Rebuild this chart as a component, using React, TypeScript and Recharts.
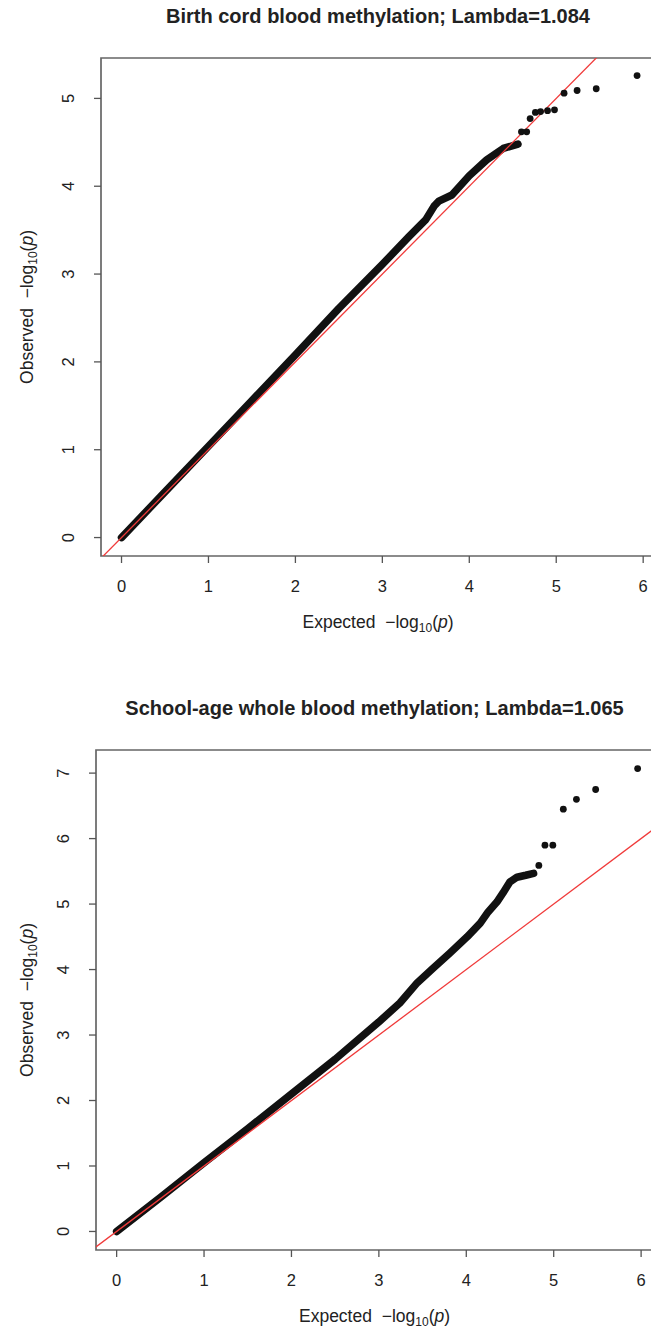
import React from 'react';
import { ComposedChart, Line, Scatter, XAxis, YAxis, ReferenceArea } from 'recharts';

// Birth cord blood: dense part of the QQ curve (expected, observed)
const cordBandExp = [0, 0.5, 1, 1.5, 2, 2.5, 3, 3.3, 3.5, 3.6, 3.65, 3.8, 4.0, 4.2, 4.39, 4.56];
const cordBandObs = [0, 0.52, 1.04, 1.56, 2.08, 2.61, 3.11, 3.42, 3.62, 3.78, 3.83, 3.9, 4.12, 4.3, 4.43, 4.48];
// Birth cord blood: single points in the tail
const cordTailExp = [4.6, 4.66, 4.7, 4.76, 4.82, 4.9, 4.98, 5.09, 5.24, 5.46, 5.93];
const cordTailObs = [4.62, 4.62, 4.77, 4.84, 4.85, 4.86, 4.87, 5.06, 5.09, 5.11, 5.26];

// School-age whole blood
const schoolBandExp = [0, 0.5, 1, 1.5, 2, 2.5, 3, 3.24, 3.44, 3.62, 3.81, 4.01, 4.16, 4.25, 4.35, 4.42, 4.5, 4.58, 4.68, 4.77];
const schoolBandObs = [0, 0.52, 1.05, 1.57, 2.1, 2.63, 3.2, 3.49, 3.8, 4.02, 4.25, 4.5, 4.71, 4.88, 5.03, 5.17, 5.34, 5.41, 5.44, 5.47];
const schoolTailExp = [4.83, 4.9, 4.99, 5.11, 5.26, 5.48, 5.96];
const schoolTailObs = [5.59, 5.9, 5.9, 6.45, 6.6, 6.75, 7.07];

const xTicks = [0, 1, 2, 3, 4, 5, 6];
const cordYTicks = [0, 1, 2, 3, 4, 5];
const schoolYTicks = [0, 1, 2, 3, 4, 5, 6, 7];

const diagonal = [-1, 9];

const FONT = '"Liberation Sans", Arial, Helvetica, sans-serif';
const TEXT = '#222';

const pairs = (xs: number[], ys: number[]) => xs.map((x, i) => ({ x, y: ys[i] }));

const RotatedTick = (props: any) => {
  const { x, y, payload } = props;
  return (
    <text
      x={x}
      y={y}
      transform={`rotate(-90, ${x}, ${y})`}
      textAnchor="middle"
      fill={TEXT}
      fontSize={16.5}
      fontFamily={FONT}
    >
      {payload.value}
    </text>
  );
};

const Dot = (props: any) => <circle cx={props.cx} cy={props.cy} r={3.4} fill="#111" />;

const LogP = () => (
  <>
    {'\u2212log'}
    <span style={{ fontSize: 12, verticalAlign: -4 }}>10</span>(<i>p</i>)
  </>
);

interface QQProps {
  top: number;
  title: string;
  bandExp: number[];
  bandObs: number[];
  tailExp: number[];
  tailObs: number[];
  yTicks: number[];
  yDomain: [number, number];
  margin: { top: number; left: number; right: number; bottom: number };
}

const QQPlot: React.FC<QQProps> = ({ top, title, bandExp, bandObs, tailExp, tailObs, yTicks, yDomain, margin }) => {
  const xDomain: [number, number] = [-0.236, 6.136];
  const plotLeft = margin.left + 40;
  const plotRight = 660 - margin.right;
  const plotBottom = 660 - margin.bottom - 40;
  const cx = (plotLeft + plotRight) / 2;
  return (
    <div style={{ position: 'absolute', left: 0, top, width: 660, height: 660 }}>
      <div
        style={{
          position: 'absolute', left: cx, top: 5, transform: 'translateX(-50%)', whiteSpace: 'nowrap',
          fontFamily: FONT, fontWeight: 'bold', fontSize: 20, color: TEXT, letterSpacing: 0,
        }}
      >
        {title}
      </div>
      <ComposedChart width={660} height={660} margin={margin}>
        <XAxis
          type="number"
          dataKey="x"
          domain={xDomain}
          allowDataOverflow
          ticks={xTicks}
          height={40}
          axisLine={false}
          tickSize={7}
          tickMargin={17}
          tickLine={{ stroke: '#555', strokeWidth: 1.3 }}
          tick={{ fill: TEXT, fontSize: 16.5, fontFamily: FONT }}
        />
        <YAxis
          type="number"
          dataKey="y"
          domain={yDomain}
          allowDataOverflow
          ticks={yTicks}
          width={40}
          axisLine={false}
          tickSize={7}
          tickMargin={20}
          tickLine={{ stroke: '#555', strokeWidth: 1.3 }}
          tick={<RotatedTick />}
        />
        <ReferenceArea
          x1={xDomain[0]}
          x2={xDomain[1]}
          y1={yDomain[0]}
          y2={yDomain[1]}
          fill="none"
          stroke="#666"
          strokeWidth={1.7}
        />
        <Line
          data={pairs(bandExp, bandObs)}
          dataKey="y"
          type="linear"
          stroke="#111"
          strokeWidth={7.5}
          strokeLinecap="round"
          strokeLinejoin="round"
          dot={false}
          activeDot={false}
          isAnimationActive={false}
        />
        <Scatter data={pairs(tailExp, tailObs)} dataKey="y" shape={<Dot />} isAnimationActive={false} />
        <Line
          data={pairs(diagonal, diagonal)}
          dataKey="y"
          type="linear"
          stroke="#f03a3a"
          strokeWidth={1.3}
          dot={false}
          activeDot={false}
          isAnimationActive={false}
        />
      </ComposedChart>
      <div
        style={{
          position: 'absolute', left: cx, top: plotBottom + 56, transform: 'translateX(-50%)', whiteSpace: 'nowrap',
          fontFamily: FONT, fontSize: 17.5, color: TEXT,
        }}
      >
        Expected&nbsp;&nbsp;<LogP />
      </div>
      <div
        style={{
          position: 'absolute', left: 28, top: (margin.top + plotBottom) / 2,
          transform: 'translate(-50%, -50%) rotate(-90deg)', whiteSpace: 'nowrap',
          fontFamily: FONT, fontSize: 17.5, color: TEXT,
        }}
      >
        Observed&nbsp;&nbsp;<LogP />
      </div>
    </div>
  );
};

export default function App() {
  return (
    <div style={{ position: 'absolute', left: 0, top: 0, width: 651, height: 1332, overflow: 'hidden', background: '#fff' }}>
      <QQPlot
        top={0}
        title="Birth cord blood methylation; Lambda=1.084"
        bandExp={cordBandExp}
        bandObs={cordBandObs}
        tailExp={cordTailExp}
        tailObs={cordTailObs}
        yTicks={cordYTicks}
        yDomain={[-0.21, 5.46]}
        margin={{ top: 58, left: 61, right: 5, bottom: 64 }}
      />
      <QQPlot
        top={692}
        title="School-age whole blood methylation; Lambda=1.065"
        bandExp={schoolBandExp}
        bandObs={schoolBandObs}
        tailExp={schoolTailExp}
        tailObs={schoolTailObs}
        yTicks={schoolYTicks}
        yDomain={[-0.283, 7.353]}
        margin={{ top: 58, left: 56, right: 7, bottom: 62 }}
      />
    </div>
  );
}
